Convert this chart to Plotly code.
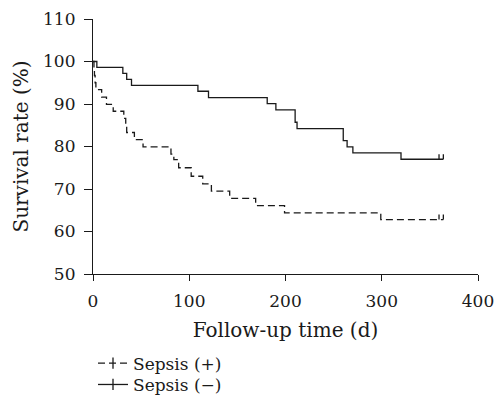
import plotly.graph_objects as go

# Sepsis (-) : solid line
neg_t = [0, 4, 31, 35, 40, 109, 120, 181, 190, 210, 212, 260, 264, 270, 320, 364]
neg_s = [100, 98.6, 97.2, 95.8, 94.4, 93.0, 91.5, 90.1, 88.6, 85.7, 84.2, 81.4, 79.9, 78.5, 77.0, 77.0]
# Sepsis (+) : dashed line
pos_t = [0, 1, 1.5, 2.2, 3, 9, 14, 21, 32, 34, 35, 43, 52, 81, 84, 89, 102, 114, 123, 142, 169, 199, 299, 364]
pos_s = [100, 98.3, 96.7, 95.0, 93.4, 91.6, 89.9, 88.3, 86.6, 85.0, 83.3, 81.6, 79.9, 78.2, 76.9, 75.0,
         73.0, 71.2, 69.5, 67.8, 66.1, 64.4, 62.8, 62.8]
censor_t = [359.5, 364]
tick_h = 1.2

x_ticks = [0, 100, 200, 300, 400]
y_ticks = [50, 60, 70, 80, 90, 100, 110]

FONT = "DejaVu Serif"
FS = 17
INK = "#1a1a1a"


def censor_segments(times, level):
    xs, ys = [], []
    for t in times:
        xs += [t, t, None]
        ys += [level, level + tick_h, None]
    return xs, ys


fig = go.Figure()

series = [(pos_t, pos_s, "7px,4px", "Sepsis (+)", "legend"),
          (neg_t, neg_s, "solid", "Sepsis (\u2212)", "legend2")]
for t, s, dash, name, leg in series:
    fig.add_trace(go.Scatter(x=t, y=s, mode="lines", line=dict(color=INK, width=1.3, dash=dash, shape="hv"),
                             showlegend=False, hoverinfo="skip"))
    cx, cy = censor_segments(censor_t, s[-1])
    fig.add_trace(go.Scatter(x=cx, y=cy, mode="lines", line=dict(color=INK, width=1.3),
                             showlegend=False, hoverinfo="skip"))
    fig.add_trace(go.Scatter(x=[None], y=[None], mode="lines+markers", name=name, legend=leg,
                             line=dict(color=INK, width=1.3, dash=dash),
                             marker=dict(symbol="line-ns-open", size=8, color=INK,
                                         line=dict(color=INK, width=1.3))))

leg_common = dict(x=0.0, xanchor="left", yanchor="middle", bgcolor="rgba(0,0,0,0)",
                  font=dict(family=FONT, size=FS, color=INK), itemwidth=30, borderwidth=0)

fig.update_layout(
    width=495, height=404,
    margin=dict(l=93, r=17, t=19, b=130, autoexpand=False),
    paper_bgcolor="white", plot_bgcolor="white",
    font=dict(family=FONT, size=FS, color=INK),
    legend=dict(y=-0.351, **leg_common),
    legend2=dict(y=-0.435, **leg_common),
    xaxis=dict(range=[0, 400], tickvals=x_ticks, ticks="outside", ticklen=6, tickwidth=1.2,
               tickcolor=INK, showline=True, linecolor=INK, linewidth=1.2, showgrid=False,
               zeroline=False, automargin=False, ticklabelstandoff=5,
               title=dict(text="Follow-up time (d)", standoff=13),
               tickfont=dict(family=FONT, size=FS)),
    yaxis=dict(range=[50, 110], tickvals=y_ticks, ticks="outside", ticklen=8, tickwidth=1.2,
               tickcolor=INK, showline=True, linecolor=INK, linewidth=1.2, showgrid=False,
               zeroline=False, automargin=False, ticklabelstandoff=5,
               title=dict(text="Survival rate (%)", standoff=9),
               tickfont=dict(family=FONT, size=FS)),
)

fig.write_html("out.html", post_script="document.body.style.margin='0';",
               config={"displayModeBar": False})
